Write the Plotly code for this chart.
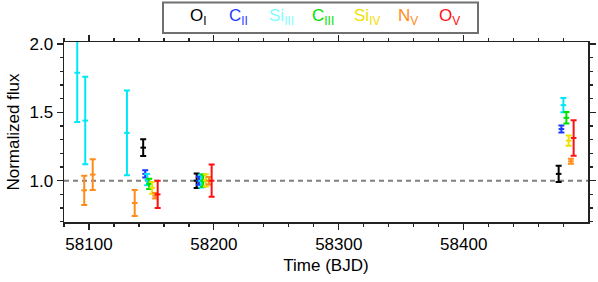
import plotly.graph_objects as go

# ---- data ----
ions = ["O<sub>I</sub>", "C<sub>II</sub>", "Si<sub>III</sub>", "C<sub>III</sub>",
        "Si<sub>IV</sub>", "N<sub>V</sub>", "O<sub>V</sub>"]
colors = ["#000000", "#1a3cff", "#00e8f8", "#00e000", "#f0e000", "#ff8c1a", "#ff1010"]
legend_colors = ["#000000", "#1a3cff", "#80ffff", "#00e000", "#f0e000", "#ff8c1a", "#ff1010"]

oi_t = [58143.4, 58186.2, 58476.0]
oi_f = [1.242, 1.0, 1.05]
oi_e = [0.062, 0.053, 0.06]

cii_t = [58145.0, 58188.0, 58478.2]
cii_f = [1.05, 1.0, 1.378]
cii_e = [0.026, 0.03, 0.026]

siiii_t = [58090.6, 58097.0, 58130.4, 58146.6, 58189.8, 58479.8]
siiii_f = [1.79, 1.44, 1.35, 1.008, 0.998, 1.553]
siiii_e = [0.36, 0.32, 0.31, 0.042, 0.047, 0.052]

ciii_t = [58148.2, 58191.4, 58482.2]
ciii_f = [0.977, 1.0, 1.46]
ciii_e = [0.037, 0.045, 0.042]

siiv_t = [58150.6, 58193.6, 58484.0]
siiv_f = [0.948, 1.003, 1.293]
siiv_e = [0.043, 0.045, 0.038]

nv_t = [58096.2, 58103.0, 58136.6, 58153.0, 58196.0, 58485.8]
nv_f = [0.93, 1.045, 0.837, 0.89, 1.0, 1.142]
nv_e = [0.107, 0.113, 0.095, 0.02, 0.027, 0.018]

ov_t = [58155.0, 58198.2, 58488.0]
ov_f = [0.9, 1.0, 1.313]
ov_e = [0.1, 0.118, 0.13]

series = [(oi_t, oi_f, oi_e), (cii_t, cii_f, cii_e), (siiii_t, siiii_f, siiii_e),
          (ciii_t, ciii_f, ciii_e), (siiv_t, siiv_f, siiv_e), (nv_t, nv_f, nv_e),
          (ov_t, ov_f, ov_e)]

legend_x_px = [198, 238, 281, 323, 367, 408, 449]

FONT = "Liberation Sans, Arial, Helvetica, sans-serif"

fig = go.Figure()
for (t, f, e), c, name in zip(series, colors, ions):
    fig.add_trace(go.Scatter(
        x=t, y=f, mode="markers", name=name,
        marker=dict(symbol="line-ew-open", size=4, color=c, line=dict(color=c, width=2)),
        error_y=dict(type="data", array=e, visible=True, color=c, thickness=2, width=3),
        showlegend=False, hoverinfo="skip",
    ))

W, H = 598, 282
L, R, T, B = 64, 588, 42, 222  # plot area in screen pixels

fig.add_shape(type="line", xref="paper", yref="y", x0=0, x1=1, y0=1.0, y1=1.0,
              line=dict(color="#808080", width=2, dash="5px,4px"), layer="below")

def px_x(p):
    return (p - L) / (R - L)

def px_y(p):
    return (B - p) / (B - T)

# legend box
fig.add_shape(type="rect", xref="paper", yref="paper",
              x0=px_x(163), x1=px_x(478), y0=px_y(33), y1=px_y(2.5),
              line=dict(color="#707070", width=2), fillcolor="white")
for name, c, xp in zip(ions, legend_colors, legend_x_px):
    fig.add_annotation(text=name, xref="paper", yref="paper", x=px_x(xp), y=px_y(17),
                       xanchor="center", yanchor="middle", showarrow=False,
                       font=dict(color=c, size=17, family=FONT))

axis_common = dict(showline=True, linecolor="#222", linewidth=1.5, mirror="ticks",
                   ticks="outside", ticklen=6, tickwidth=1.2, tickcolor="#222",
                   showgrid=False, zeroline=False, automargin=False,
                   tickfont=dict(size=17, family=FONT, color="black"))

fig.update_xaxes(range=[58080, 58499.5], dtick=100, tick0=58100, tickformat="d",
                 minor=dict(dtick=20, ticks="outside", ticklen=3, tickcolor="#222", tickwidth=1.2),
                 title=dict(text="Time (BJD)", font=dict(size=17, family=FONT, color="black"), standoff=6),
                 **axis_common)
fig.update_yaxes(range=[0.698, 2.015], dtick=0.5, tick0=0, tickformat=".1f",
                 minor=dict(dtick=0.1, ticks="outside", ticklen=3, tickcolor="#222", tickwidth=1.2),
                 title=dict(text="Normalized flux", font=dict(size=17, family=FONT, color="black"), standoff=5),
                 **axis_common)

fig.update_layout(width=W, height=H,
                  margin=dict(l=L, r=W - R, t=T, b=H - B),
                  plot_bgcolor="white", paper_bgcolor="white",
                  font=dict(family=FONT), hovermode=False)

fig.write_html("out.html", config={"displayModeBar": False, "staticPlot": True},
               post_script="document.body.style.margin='0';document.body.style.overflow='hidden';")
